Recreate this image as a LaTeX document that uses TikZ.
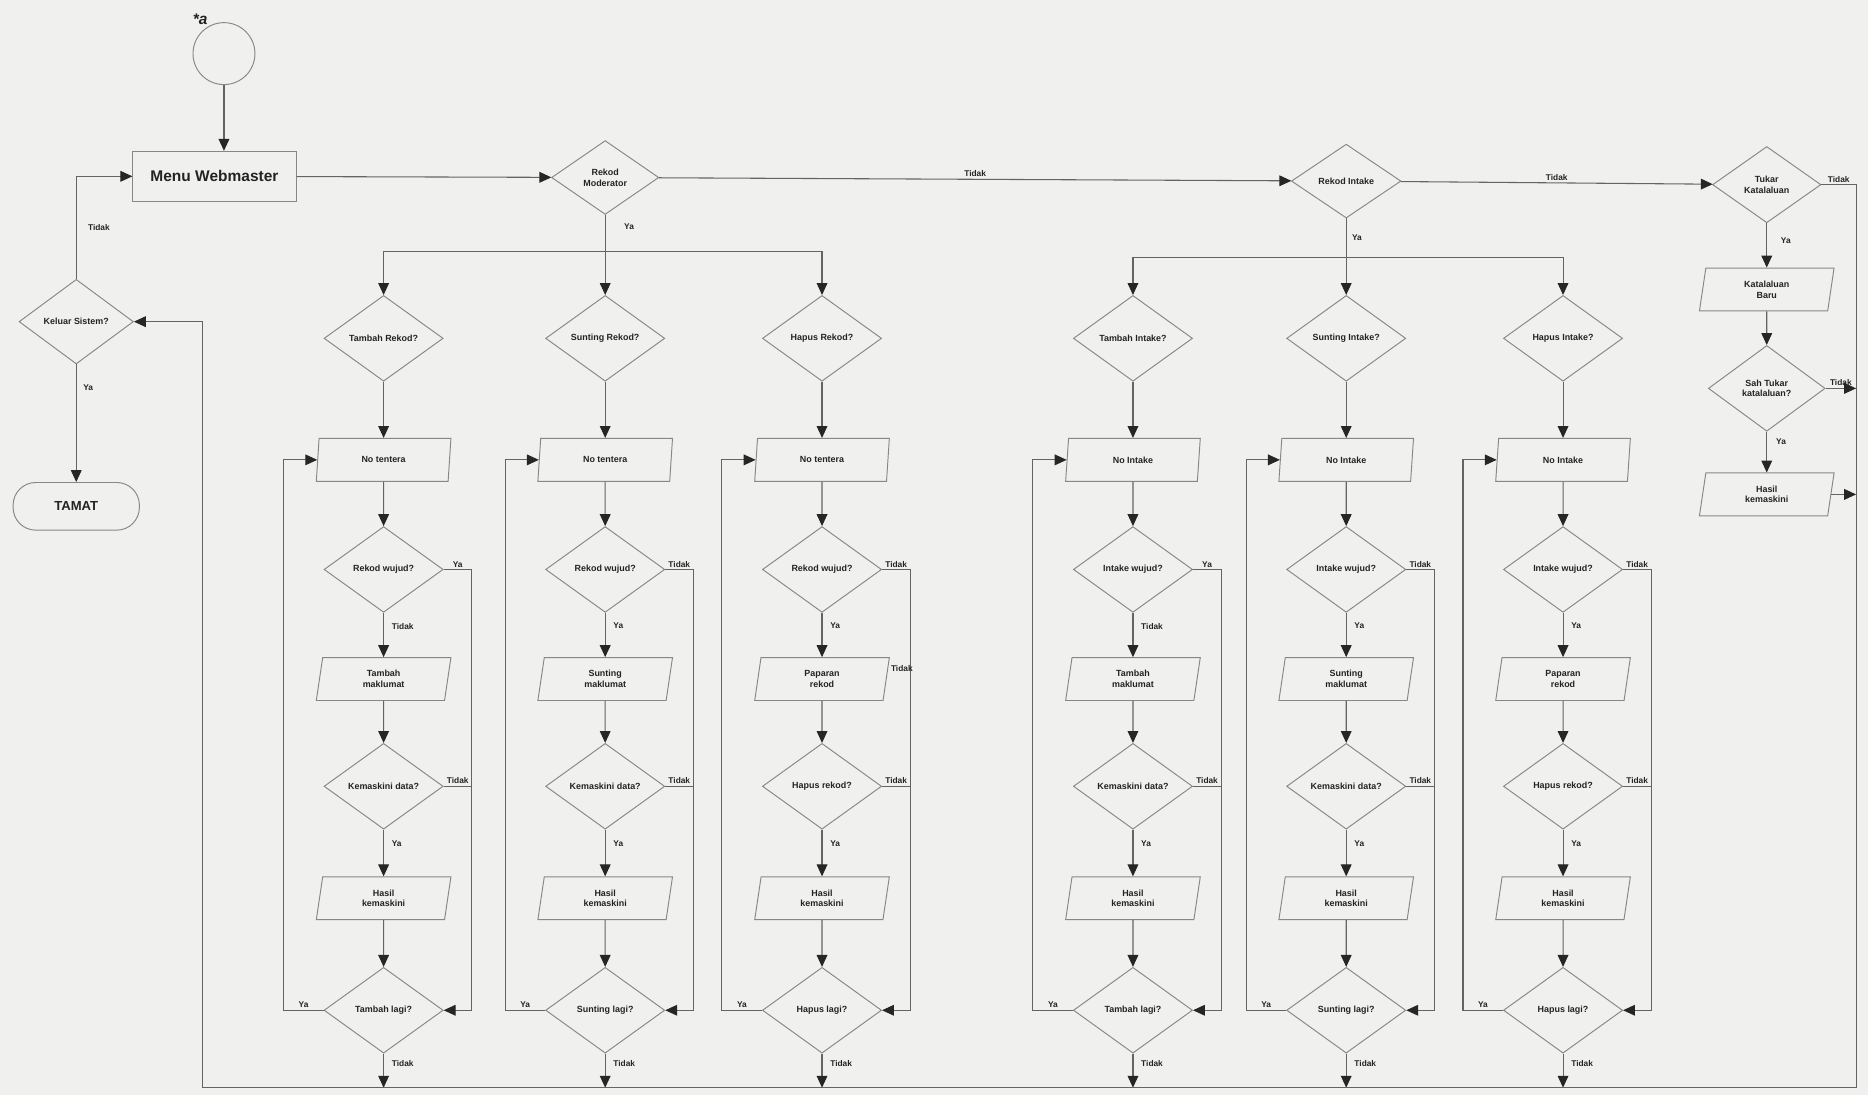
\documentclass[tikz,border=0pt]{standalone}
\usepackage{fontspec}
\setmainfont{Liberation Sans}
\usetikzlibrary{shapes.geometric,arrows.meta}
\definecolor{PaperBg}{RGB}{240,241,239}
\definecolor{ShpLine}{RGB}{135,135,135}
\definecolor{ArrLine}{RGB}{100,100,100}
\definecolor{TxtCol} {RGB}{35,35,35}
\tikzset{
  nd_con/.style={
    circle, draw=ShpLine, line width=0.8pt,
    minimum size=52pt, inner sep=0pt},
  nd_menu/.style={
    rectangle, draw=ShpLine, line width=0.8pt,
    minimum width=137pt, minimum height=42pt,
    text=TxtCol, font=\fontsize{13}{15}\selectfont\bfseries},
  nd_end/.style={
    rectangle, rounded corners=19pt, draw=ShpLine, line width=0.8pt,
    minimum width=106pt, minimum height=40pt,
    text=TxtCol, font=\fontsize{11}{13}\selectfont\bfseries},
  nd_dec/.style={
    diamond, aspect=1.4, draw=ShpLine, line width=0.8pt,
    minimum width=100pt, minimum height=72pt, inner sep=0pt,
    align=center, text=TxtCol, font=\fontsize{7.5}{9}\selectfont\bfseries},
  nd_io/.style={
    trapezium, trapezium left angle=72, trapezium right angle=108,
    trapezium stretches body, draw=ShpLine, line width=0.8pt,
    minimum width=113pt, minimum height=36pt, inner sep=1pt,
    align=center, text=TxtCol, font=\fontsize{7.5}{9}\selectfont\bfseries},
  arr/.style={-{Triangle[length=10pt,width=9pt,color=black!85]},
    draw=ArrLine, line width=0.9pt},
  lnk/.style={draw=ArrLine, line width=0.9pt},
  lbl/.style={font=\fontsize{7}{8}\selectfont\bfseries,text=TxtCol,inner sep=1.5pt},
}

\begin{document}
\begin{tikzpicture}[x=1pt,y=-1pt]

\useasboundingbox (0,0) rectangle (1568,919);
\fill[PaperBg] (0,0) rectangle (1568,919);

%% start, menu, exit
\node[nd_con] (conA) at (188,45) {};
\node[text=TxtCol, font=\fontsize{13}{15}\selectfont\bfseries\itshape] (conAlbl) at (168,16) {*a};
\node[nd_menu] (menu) at (180,148) {Menu Webmaster};
\node[nd_dec, minimum width=96pt, minimum height=71pt] (keluar) at (64,270) {Keluar Sistem?};
\node[nd_end] (tamat) at (64,425) {TAMAT};

%% top row
\node[nd_dec, minimum width=90pt, minimum height=62pt] (mod)    at (508,149) {Rekod\\Moderator};
\node[nd_dec, minimum width=92pt, minimum height=62pt] (intake) at (1130,152) {Rekod Intake};
\node[nd_dec, minimum width=91pt, minimum height=64pt] (tukar)  at (1483,155) {Tukar\\Katalaluan};

%% Col katalaluan
\node[nd_io]  (baru)   at (1483,243) {Katalaluan\\Baru};
\node[nd_dec, minimum width=98pt] (sah) at (1483,326) {Sah Tukar\\katalaluan?};
\node[nd_io]  (hasilK) at (1483,415) {Hasil\\kemaskini};

\coordinate (rt)    at (1558,151);
\coordinate (botL)  at (170,913);
\coordinate (modbr) at (508,211);
\coordinate (intbr) at (1130,216);

%% six record columns
\foreach \cx/\cn/\tq/\ti/\tw/\twy/\twb/\ts/\tk/\tl in {
  322/TR/Tambah Rekod?/No tentera/Rekod wujud?/Ya/Tidak/Tambah\\maklumat/Kemaskini data?/Tambah lagi?,
  508/SR/Sunting Rekod?/No tentera/Rekod wujud?/Tidak/Ya/Sunting\\maklumat/Kemaskini data?/Sunting lagi?,
  690/HR/Hapus Rekod?/No tentera/Rekod wujud?/Tidak/Ya/Paparan\\rekod/Hapus rekod?/Hapus lagi?,
  951/TI/Tambah Intake?/No Intake/Intake wujud?/Ya/Tidak/Tambah\\maklumat/Kemaskini data?/Tambah lagi?,
  1130/SI/Sunting Intake?/No Intake/Intake wujud?/Tidak/Ya/Sunting\\maklumat/Kemaskini data?/Sunting lagi?,
  1312/HI/Hapus Intake?/No Intake/Intake wujud?/Tidak/Ya/Paparan\\rekod/Hapus rekod?/Hapus lagi?}
{
  \node[nd_dec] (\cn-q) at (\cx,284) {\tq};
  \node[nd_io]  (\cn-i) at (\cx,386) {\ti};
  \node[nd_dec] (\cn-w) at (\cx,478) {\tw};
  \node[nd_io]  (\cn-s) at (\cx,570) {\ts};
  \node[nd_dec] (\cn-k) at (\cx,660) {\tk};
  \node[nd_io]  (\cn-h) at (\cx,754) {Hasil\\kemaskini};
  \node[nd_dec] (\cn-l) at (\cx,848) {\tl};
  \coordinate (\cn-r) at (\cx+74,478);
  \coordinate (\cn-b) at (\cx-84,848);
  \draw[arr] (\cn-q) -- (\cn-i);
  \draw[arr] (\cn-i) -- (\cn-w);
  \draw[arr] (\cn-w) -- node[lbl,right=5pt,pos=0.3]{\twb} (\cn-s);
  \draw[arr] (\cn-s) -- (\cn-k);
  \draw[arr] (\cn-k) -- node[lbl,right=5pt,pos=0.3]{Ya} (\cn-h);
  \draw[arr] (\cn-h) -- (\cn-l);
  \draw[arr] (\cn-w.east) -- node[lbl,above]{\twy} (\cn-r) |- (\cn-l.east);
  \draw[lnk] (\cn-k.east) -- node[lbl,above]{Tidak} (\cn-k.east -| \cn-r);
  \draw[arr] (\cn-l.west) -- node[lbl,above]{Ya} (\cn-b) |- (\cn-i.west);
  \draw[arr] (\cn-l.south) -- node[lbl,right=5pt,pos=0.3]{Tidak} (\cn-l.south |- botL);
}
\node[lbl] (HRx) at (757,561) {Tidak};

%% connectors
\draw[arr] (conA) -- (conA |- menu.north);
\draw[arr] (keluar.north) |- node[lbl,right=8pt,pos=0.25]{Tidak} (menu.west);
\draw[arr] (keluar) -- node[lbl,right=4pt,pos=0.2]{Ya} (tamat);
\draw[arr] (menu) -- (mod);
\draw[arr] (mod) -- node[lbl,above]{Tidak} (intake);
\draw[arr] (intake) -- node[lbl,above]{Tidak} (tukar);

\draw[arr] (mod) -- node[lbl,right=14pt,pos=0.15]{Ya} (SR-q);
\draw[arr] (modbr) -| (TR-q);
\draw[arr] (modbr) -| (HR-q);
\draw[arr] (intake) -- node[lbl,right=3pt,pos=0.25]{Ya} (SI-q);
\draw[arr] (intbr) -| (TI-q);
\draw[arr] (intbr) -| (HI-q);

\draw[arr] (tukar) -- node[lbl,right=10pt,pos=0.4]{Ya} (baru);
\draw[arr] (baru) -- (sah);
\draw[arr] (sah) -- node[lbl,right=6pt,pos=0.25]{Ya} (hasilK);
\draw[arr] (sah.east) -- node[lbl,above]{Tidak} (sah.east -| rt);
\draw[arr] (hasilK.east) -- (hasilK.east -| rt);

\draw[arr] (tukar.east) -- node[lbl,above]{Tidak} (tukar.east -| rt) |- (botL) |- (keluar.east);

\end{tikzpicture}
\end{document}
